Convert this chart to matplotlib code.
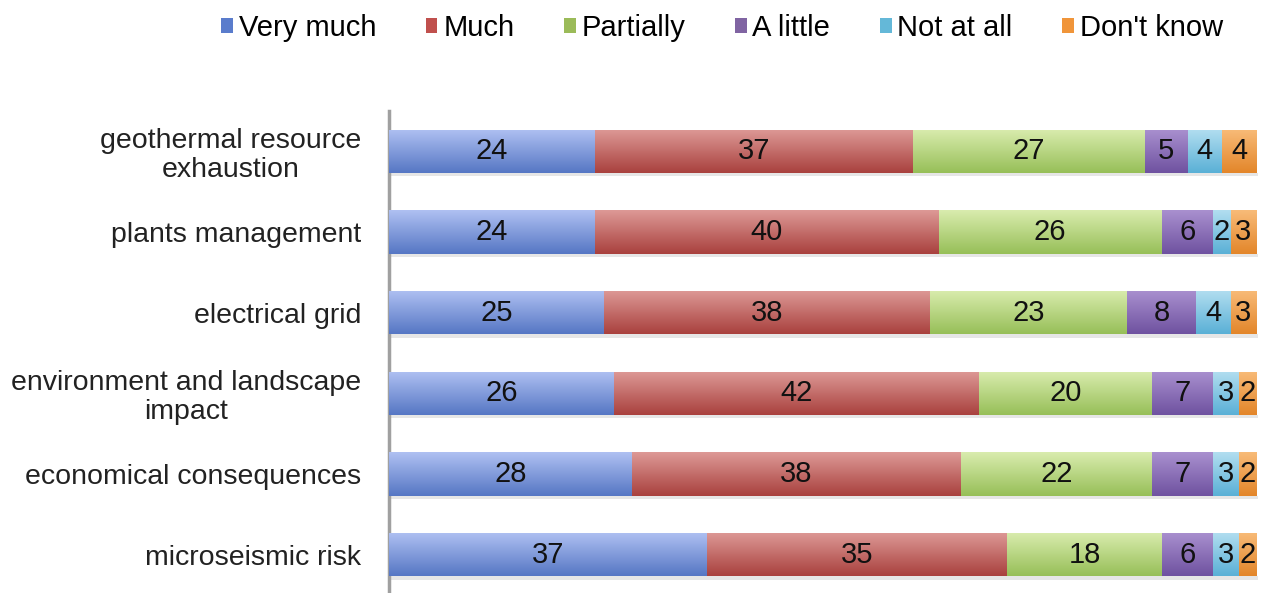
import numpy as np
import matplotlib
matplotlib.use("Agg")
import matplotlib.pyplot as plt
from matplotlib.colors import LinearSegmentedColormap, to_rgb
from matplotlib.patches import Patch

plt.rcParams["font.family"] = ["Liberation Sans", "DejaVu Sans"]

CATEGORIES = [
    "geothermal resource\nexhaustion",
    "plants management",
    "electrical grid",
    "environment and landscape\nimpact",
    "economical consequences",
    "microseismic risk",
]
SERIES = ["Very much", "Much", "Partially", "A little", "Not at all", "Don't know"]
VERY_MUCH = [24, 24, 25, 26, 28, 37]
MUCH = [37, 40, 38, 42, 38, 35]
PARTIALLY = [27, 26, 23, 20, 22, 18]
A_LITTLE = [5, 6, 8, 7, 7, 6]
NOT_AT_ALL = [4, 2, 4, 3, 3, 3]
DONT_KNOW = [4, 3, 3, 2, 2, 2]

# (light top, dark bottom) per series, Excel-2008 style gradient
COLORS = [
    ("#afc0f2", "#5677c4"),
    ("#dd9996", "#a9413e"),
    ("#d9ecae", "#97bf58"),
    ("#a990cf", "#6f52a0"),
    ("#b2def0", "#5ab0d6"),
    ("#f8bb78", "#e3862a"),
]
BASE = ["#5a7ccc", "#c0504d", "#9bbb59", "#8064a2", "#64b8d8", "#f0953a"]

values = np.array([VERY_MUCH, MUCH, PARTIALLY, A_LITTLE, NOT_AT_ALL, DONT_KNOW], dtype=float)
pct = values / values.sum(axis=0) * 100  # 100% stacked

fig = plt.figure(figsize=(12.68, 5.93), dpi=100)
ax = fig.add_axes([389 / 1268, -2 / 593, 869 / 1268, 484 / 593])

y = np.arange(len(CATEGORIES))
left = np.zeros(len(CATEGORIES))
grad = np.linspace(0, 1, 64).reshape(-1, 1)
for i, name in enumerate(SERIES):
    bars = ax.barh(y, pct[i], left=left, height=0.54, color=BASE[i],
                   edgecolor="none", zorder=2)
    cmap = LinearSegmentedColormap.from_list(name, [to_rgb(COLORS[i][0]), to_rgb(COLORS[i][1])])
    for b, raw in zip(bars, values[i]):
        x0, y0, w, h = b.get_x(), b.get_y(), b.get_width(), b.get_height()
        # faint drop shadow
        ax.add_patch(plt.Rectangle((x0 + 0.15, y0 + h), w, 0.04, color="#e6e6e6",
                                   lw=0, zorder=1))
        im = ax.imshow(grad, cmap=cmap, aspect="auto", extent=(x0, x0 + w, y0 + h, y0),
                       zorder=3, interpolation="bilinear")
        im.set_clip_path(b)
        ax.text(x0 + w / 2, y0 + h / 2, f"{int(raw)}", ha="center", va="center",
                fontsize=21, color="#111111", zorder=4)
    left += pct[i]

ax.set_xlim(0, 100.2)
ax.set_ylim(len(CATEGORIES) - 0.5, -0.5)
ax.set_yticks(y)
ax.set_yticklabels(CATEGORIES, fontsize=20.5, color="#222222", linespacing=1.15,
                   multialignment="center")
ax.tick_params(axis="y", length=0, pad=20)
ax.set_xticks([])
for s in ["top", "right", "bottom"]:
    ax.spines[s].set_visible(False)
ax.spines["left"].set_color("#a0a0a0")
ax.spines["left"].set_linewidth(2.5)

handles = [Patch(facecolor=BASE[i], edgecolor="none") for i in range(len(SERIES))]
fig.legend(handles, SERIES, loc="center", bbox_to_anchor=(722 / 1268, 1 - 28 / 593),
           ncol=6, frameon=False, fontsize=21, handlelength=0.4, handleheight=0.4,
           handletextpad=0.2, columnspacing=1.7)

fig.savefig("out.png", dpi=100, facecolor="white")
